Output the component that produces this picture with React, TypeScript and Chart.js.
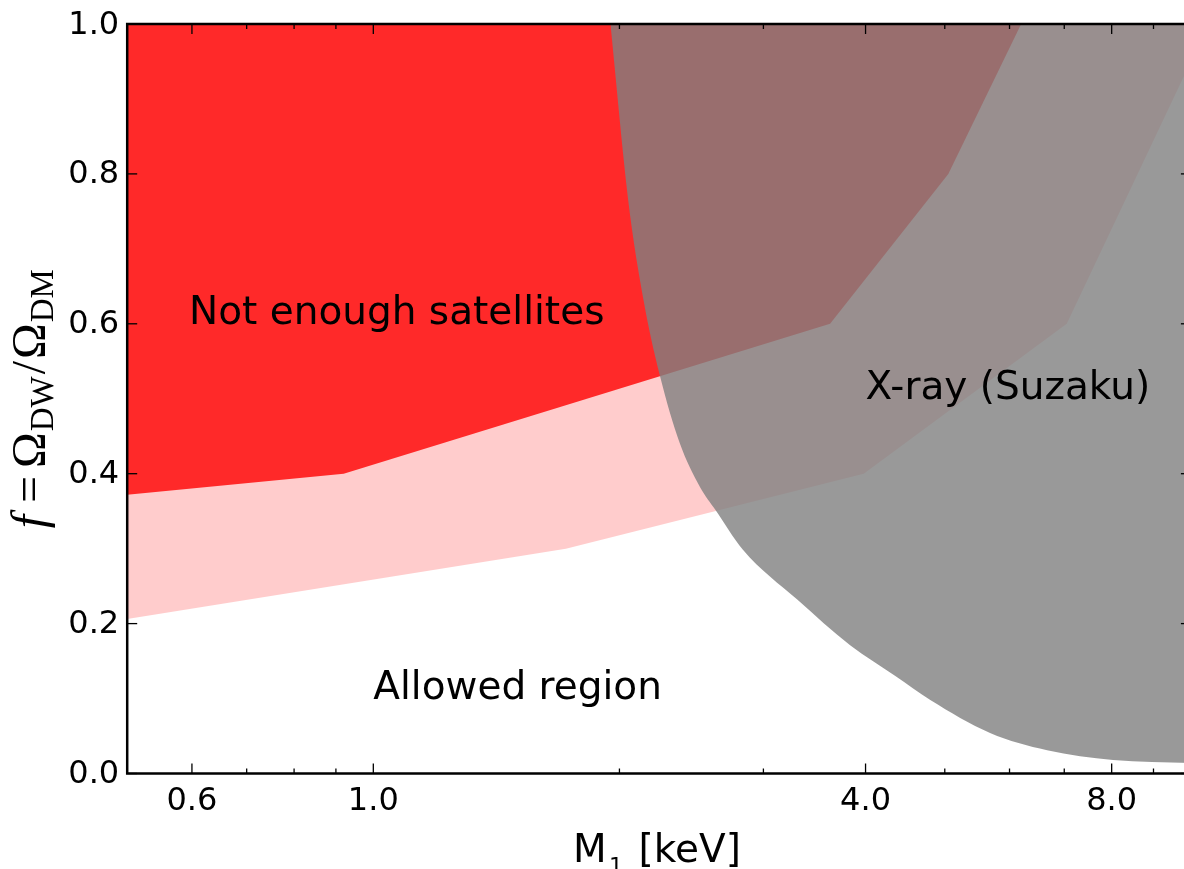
import React, { useEffect, useRef } from "react";
import { Chart, registerables } from "chart.js";

Chart.register(...registerables);

// Weaker satellite-count bound (light red band): lower edge, f vs M1 [keV]
const bandLowX = [0.5, 1.72, 3.98, 7.05, 10];
const bandLowF = [0.206, 0.3, 0.4, 0.6, 0.95];

// "Not enough satellites" region (solid red): lower edge
const satX = [0.5, 0.92, 3.62, 5.05, 6.2];
const satF = [0.372, 0.4, 0.6, 0.8, 1.0];

// X-ray (Suzaku) exclusion: lower-left edge
const xrayX = [1.95, 2.05, 2.14, 2.24, 2.37, 2.51, 2.62, 2.83, 3.3, 3.83, 4.35, 4.8, 5.68, 6.67, 8.03, 10];
const xrayF = [1.0, 0.765, 0.632, 0.532, 0.441, 0.382, 0.352, 0.299, 0.232, 0.171, 0.13, 0.098, 0.054, 0.031, 0.018, 0.014];

// Axes
const xRange = [0.5, 10];
const yRange = [0, 1];
const xMajorTicks = [0.6, 1.0, 4.0, 8.0];
const xMinorTicks = [0.7, 0.8, 0.9, 2, 3, 5, 6, 7, 9];
const yTicks = [0, 0.2, 0.4, 0.6, 0.8, 1.0];

// Region annotations (data coordinates of the text's left baseline)
const regionText = ["Not enough satellites", "X-ray (Suzaku)", "Allowed region"];
const regionTextX = [0.595, 4.0, 1.0];
const regionTextF = [0.6, 0.5, 0.1];

const pts = (xs: number[], ys: number[]) => xs.map((x, i) => ({ x, y: ys[i] }));

const SANS = "'DejaVu Sans', 'Noto Sans', sans-serif";
const SERIF = "'Liberation Serif', 'DejaVu Serif', serif";

const decorations = {
  id: "decorations",
  afterDatasetsDraw(chart: any) {
    const { ctx, chartArea: a, scales } = chart;
    const xs = scales.x;
    const ys = scales.y;
    ctx.save();
    ctx.fillStyle = "#000";
    ctx.strokeStyle = "#000";

    // region annotations
    ctx.font = `39px ${SANS}`;
    ctx.textAlign = "left";
    ctx.textBaseline = "alphabetic";
    regionText.forEach((t, i) => {
      ctx.fillText(t, xs.getPixelForValue(regionTextX[i]), ys.getPixelForValue(regionTextF[i]));
    });

    // inward ticks on all four sides
    const line = (x1: number, y1: number, x2: number, y2: number) => {
      ctx.beginPath();
      ctx.moveTo(x1, y1);
      ctx.lineTo(x2, y2);
      ctx.stroke();
    };
    ctx.lineWidth = 1.3;
    xMajorTicks.forEach((v) => {
      const p = xs.getPixelForValue(v);
      line(p, a.bottom, p, a.bottom - 10);
      line(p, a.top, p, a.top + 10);
    });
    xMinorTicks.forEach((v) => {
      const p = xs.getPixelForValue(v);
      line(p, a.bottom, p, a.bottom - 5);
      line(p, a.top, p, a.top + 5);
    });
    yTicks.forEach((v) => {
      const p = ys.getPixelForValue(v);
      line(a.left, p, a.left + 10, p);
      line(a.right, p, a.right - 10, p);
    });

    // frame
    ctx.lineWidth = 2.5;
    ctx.strokeRect(a.left, a.top, a.right - a.left, a.bottom - a.top);

    // tick labels
    ctx.font = `32px ${SANS}`;
    ctx.textAlign = "center";
    xMajorTicks.forEach((v) => {
      ctx.fillText(v.toFixed(1), xs.getPixelForValue(v), a.bottom + 36.5);
    });
    ctx.textAlign = "right";
    yTicks.forEach((v) => {
      ctx.fillText(v.toFixed(1), a.left - 8, ys.getPixelForValue(v) + 9.5);
    });

    // x-axis title: M_1  [keV]
    ctx.textAlign = "left";
    const mid = (a.left + a.right) / 2;
    const base = a.bottom + 88.2;
    ctx.font = `39px ${SANS}`;
    ctx.fillText("M", mid - 86, base);
    ctx.fillText("[keV]", mid - 20.5, base);
    ctx.font = `22px ${SANS}`;
    ctx.fillText("1", mid - 50, base + 11);

    // y-axis title: f = Ω_DW / Ω_DM
    const pieces = [
      { t: "f", f: `italic 48px ${SERIF}`, dy: 0, gap: 12 },
      { t: "=", f: `48px ${SERIF}`, dy: 0, gap: 8 },
      { t: "Ω", f: `48px ${SERIF}`, dy: 0, gap: 1 },
      { t: "DW", f: `33px ${SERIF}`, dy: 8, gap: 2 },
      { t: "/", f: `48px ${SERIF}`, dy: 0, gap: 2 },
      { t: "Ω", f: `48px ${SERIF}`, dy: 0, gap: 1 },
      { t: "DM", f: `33px ${SERIF}`, dy: 8, gap: 0 },
    ];
    let len = 0;
    const widths = pieces.map((p) => {
      ctx.font = p.f;
      const w = ctx.measureText(p.t).width;
      len += w + p.gap;
      return w;
    });
    ctx.translate(45, (a.top + a.bottom) / 2);
    ctx.rotate(-Math.PI / 2);
    let cx = -len / 2;
    pieces.forEach((p, i) => {
      ctx.font = p.f;
      ctx.fillText(p.t, cx, p.dy);
      cx += widths[i] + p.gap;
    });

    ctx.restore();
  },
};

export default function App() {
  const ref = useRef<HTMLCanvasElement>(null);

  useEffect(() => {
    const area = (data: { x: number; y: number }[], color: string, smooth = false) => ({
      data,
      fill: "end",
      backgroundColor: color,
      borderColor: "rgba(0,0,0,0)",
      borderWidth: 0,
      pointRadius: 0,
      pointHoverRadius: 0,
      cubicInterpolationMode: smooth ? "monotone" : "default",
      tension: 0,
    });

    const chart = new Chart(ref.current as HTMLCanvasElement, {
      type: "line",
      data: {
        datasets: [
          area(pts(xrayX, xrayF), "rgba(128,128,128,0.8)", true),
          area(pts(satX, satF), "rgba(255,0,0,0.8)"),
          area(pts(bandLowX, bandLowF), "rgba(255,0,0,0.2)"),
        ] as any,
      },
      options: {
        animation: false,
        responsive: false,
        devicePixelRatio: 1,
        events: [],
        layout: { padding: { left: 127.2, top: 24, right: 9.1, bottom: 95.5 } },
        scales: {
          x: { type: "logarithmic", min: xRange[0], max: xRange[1], display: false },
          y: { type: "linear", min: yRange[0], max: yRange[1], display: false },
        },
        plugins: { legend: { display: false }, tooltip: { enabled: false } },
      },
      plugins: [decorations],
    });
    return () => chart.destroy();
  }, []);

  return (
    <div
      style={{
        position: "fixed",
        left: 0,
        top: 0,
        width: 1184,
        height: 869,
        overflow: "hidden",
        background: "#fff",
      }}
    >
      <canvas ref={ref} width={1200} height={869} style={{ display: "block", width: 1200, height: 869 }} />
    </div>
  );
}
